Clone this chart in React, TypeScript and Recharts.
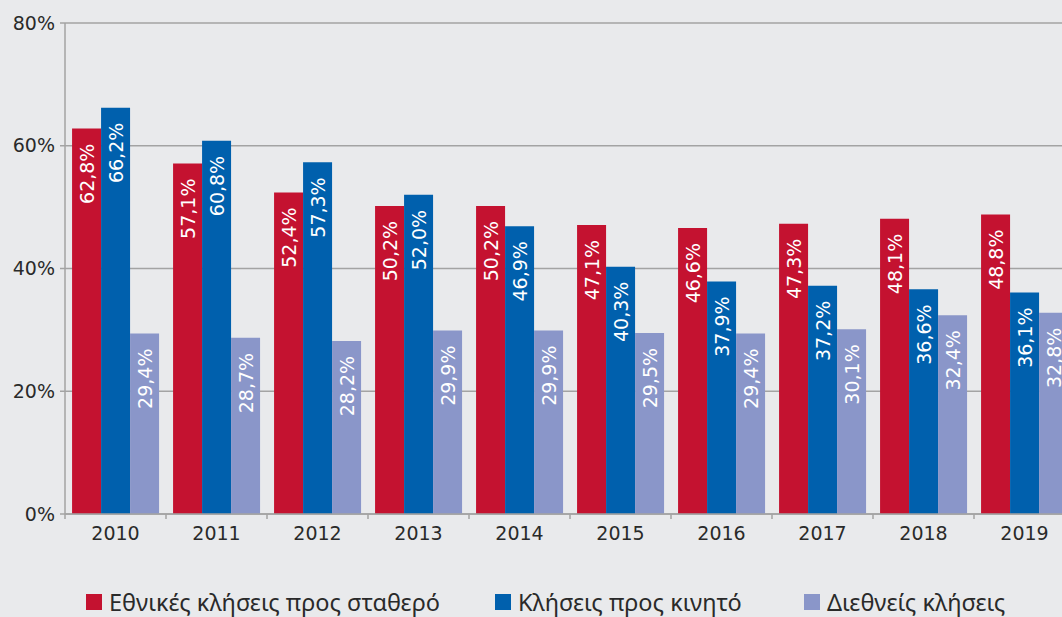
import React from 'react';
import { BarChart, Bar, XAxis, YAxis, CartesianGrid, Legend, LabelList } from 'recharts';

const years = ['2010', '2011', '2012', '2013', '2014', '2015', '2016', '2017', '2018', '2019'];
const fixedCalls = [62.8, 57.1, 52.4, 50.2, 50.2, 47.1, 46.6, 47.3, 48.1, 48.8];
const mobileCalls = [66.2, 60.8, 57.3, 52.0, 46.9, 40.3, 37.9, 37.2, 36.6, 36.1];
const intlCalls = [29.4, 28.7, 28.2, 29.9, 29.9, 29.5, 29.4, 30.1, 32.4, 32.8];
const yTicks = [0, 20, 40, 60, 80];

const series = [
  { key: 'fixed', name: 'Εθνικές κλήσεις προς σταθερό', color: '#c41230', legendWidth: 409 },
  { key: 'mobile', name: 'Κλήσεις προς κινητό', color: '#0060ad', legendWidth: 309 },
  { key: 'intl', name: 'Διεθνείς κλήσεις', color: '#8a96c9', legendWidth: 250 },
];

const data = years.map((year, i) => ({
  year,
  fixed: fixedCalls[i],
  mobile: mobileCalls[i],
  intl: intlCalls[i],
}));

const AXIS_FONT = '"DejaVu Sans", sans-serif';
const TEXT_COLOR = '#2a2a2a';
const GRID_COLOR = '#a3a3a3';

const fmt = (v: number) => v.toFixed(1).replace('.', ',') + '%';

const BarLabel = (props: any) => {
  const { x, y, width, value } = props;
  const cx = x + width / 2;
  const ty = y + 15;
  return (
    <text
      x={cx}
      y={ty}
      transform={`rotate(-90, ${cx}, ${ty})`}
      textAnchor="end"
      dominantBaseline="central"
      fill="#ffffff"
      fontSize={19}
      fontFamily={AXIS_FONT}
    >
      {fmt(value)}
    </text>
  );
};

// tick marks sit on the category boundaries, not the centres
const YearTick = (props: any) => {
  const { x, y, payload } = props;
  const half = payload.offset || 50.5;
  const axisY = y - 13;
  return (
    <g>
      <line x1={x - half} x2={x - half} y1={axisY} y2={axisY + 5} stroke={GRID_COLOR} strokeWidth={1.5} />
      <text x={x} y={y} dy="0.71em" textAnchor="middle" fill={TEXT_COLOR} fontSize={19} fontFamily={AXIS_FONT}>
        {payload.value}
      </text>
    </g>
  );
};

const renderLegend = () => (
  <div
    style={{
      display: 'flex',
      alignItems: 'center',
      height: 30,
      paddingLeft: 86,
      paddingTop: 3,
      fontFamily: '"Noto Sans", sans-serif',
      fontSize: 23.5,
      color: TEXT_COLOR,
    }}
  >
    {series.map((s) => (
      <div key={s.key} style={{ display: 'flex', alignItems: 'center', width: s.legendWidth, flexShrink: 0 }}>
        <span style={{ width: 16, height: 16, background: s.color, marginRight: 7, display: 'inline-block' }} />
        <span style={{ whiteSpace: 'nowrap' }}>{s.name}</span>
      </div>
    ))}
  </div>
);

const App = () => {
  return (
    <div
      style={{
        position: 'fixed',
        left: 0,
        top: 0,
        width: 1062,
        height: 617,
        overflow: 'hidden',
        background: '#e9eaec',
      }}
    >
      <BarChart
        width={1080}
        height={617}
        data={data}
        margin={{ top: 23, right: 5, left: 0, bottom: 0 }}
        barCategoryGap="7%"
        barGap={0}
      >
        <CartesianGrid vertical={false} stroke={GRID_COLOR} strokeWidth={1.5} />
        <XAxis
          dataKey="year"
          height={70}
          tickSize={5}
          tickMargin={8}
          tickLine={false}
          axisLine={{ stroke: GRID_COLOR, strokeWidth: 1.5 }}
          tick={<YearTick />}
          interval={0}
        />
        <YAxis
          width={65}
          domain={[0, 80]}
          ticks={yTicks}
          tickFormatter={(v) => `${v}%`}
          tickSize={5}
          tickMargin={5}
          tickLine={{ stroke: GRID_COLOR, strokeWidth: 1.5 }}
          axisLine={{ stroke: GRID_COLOR, strokeWidth: 1.5 }}
          tick={{ fill: TEXT_COLOR, fontSize: 19, fontFamily: AXIS_FONT }}
        />
        <Legend verticalAlign="bottom" content={renderLegend} wrapperStyle={{ left: 0 }} />
        {series.map((s) => (
          <Bar key={s.key} dataKey={s.key} name={s.name} fill={s.color} isAnimationActive={false}>
            <LabelList dataKey={s.key} content={<BarLabel />} />
          </Bar>
        ))}
      </BarChart>
    </div>
  );
};

export default App;
